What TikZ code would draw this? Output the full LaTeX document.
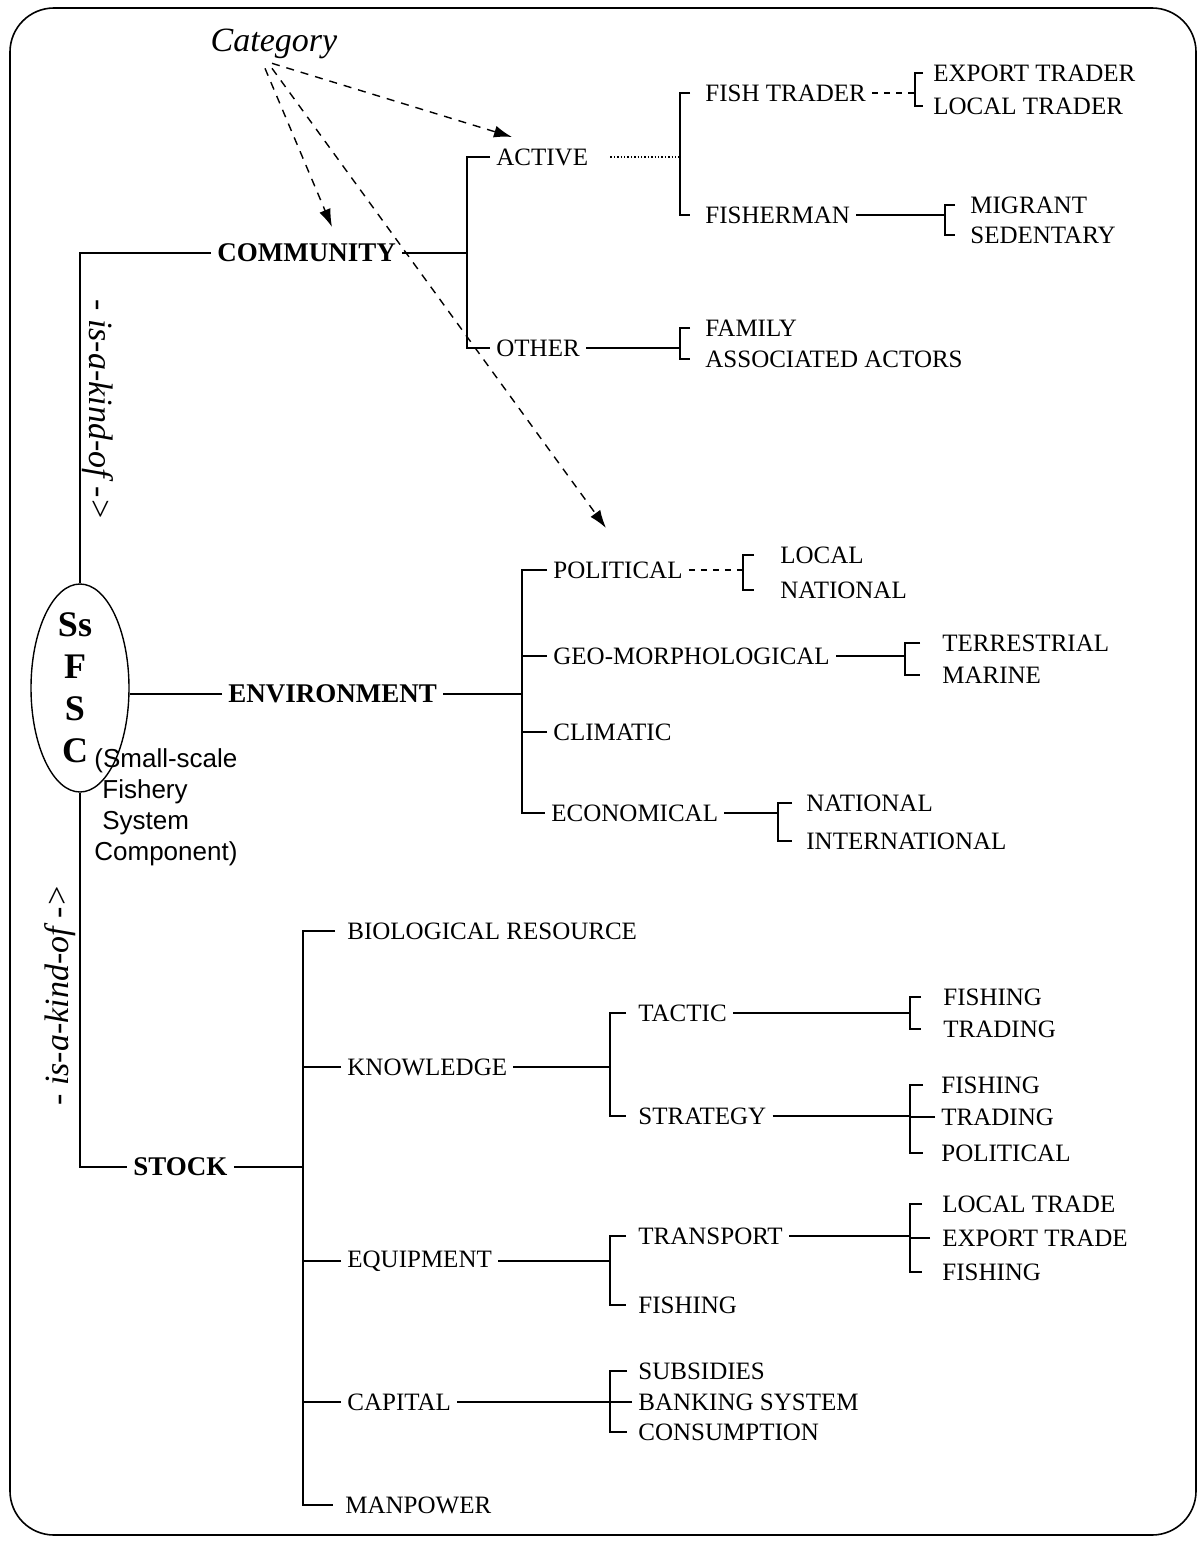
\documentclass[tikz,border=0pt]{standalone}
\usepackage{fontspec}
\setmainfont{Liberation Serif}
\newfontfamily\sansf{Liberation Sans}
\usetikzlibrary{shapes.geometric,arrows.meta,calc}
\tikzset{
  lab/.style={anchor=west, font=\fontsize{12.5}{14}\selectfont, inner xsep=3pt, inner ysep=1pt},
  mainlab/.style={lab, font=\fontsize{13.5}{15}\selectfont\bfseries},
  conn/.style={line width=0.7pt},
  catarrow/.style={line width=0.7pt, dash pattern=on 4pt off 3.5pt, -{Latex[length=9pt,width=6pt]}},
  kind/.style={font=\fontsize{17}{20}\selectfont\itshape, inner sep=0},
  gap/.style={shorten <=#1, shorten >=#1},
}
\begin{document}
\begin{tikzpicture}[x=0.5pt,y=-0.5pt]
\useasboundingbox (0,0) rectangle (1201,1541);
\draw[line width=0.8pt, rounded corners=22pt] (10,8) rectangle (1196,1535);

% category
\node[kind] (cat) at (274,44) {Category};
\coordinate (tipA) at (512,137);
\coordinate (tipB) at (332,227);
\coordinate (tipC) at (606,528);
\draw[catarrow] ($(cat.south)+(-2,4)$) -- (tipA);
\draw[catarrow] ($(cat.south)+(-9,9)$) -- (tipB);
\draw[catarrow] ($(cat.south)+(-2,9)$) -- (tipC);

% central ellipse
\node[draw, ellipse, conn, minimum width=49pt, minimum height=104pt, inner sep=0] (ssfsc) at (80,688) {};
\node[font=\fontsize{18}{21}\selectfont\bfseries, align=center, inner sep=0] (ssfsclet) at (75,688) {Ss\\F\\S\\C};
\node[anchor=north west, font=\sansf\fontsize{13}{15.5}\selectfont, align=left, inner sep=0] (sub) at (94,748)
  {(Small-scale\\\hspace*{4pt}Fishery\\\hspace*{4pt}System\\Component)};

\node[kind, rotate=-90] (kindtop) at (98,410) {- is-a-kind-of ->};
\node[kind, rotate=90] (kindbot) at (60,995) {- is-a-kind-of ->};

% community
\node[mainlab] (comm) at (211,253) {COMMUNITY};
\node[lab] (active) at (490,157) {ACTIVE};
\node[lab] (other) at (490,348) {OTHER};
\node[lab] (fishtrader) at (699,93) {FISH TRADER};
\node[lab] (fisherman) at (699,215) {FISHERMAN};
\node[lab] (export) at (927,73) {EXPORT TRADER};
\node[lab] (localtr) at (927,106) {LOCAL TRADER};
\node[lab] (migrant) at (964,205) {MIGRANT};
\node[lab] (sedentary) at (964,235) {SEDENTARY};
\node[lab] (family) at (699,328) {FAMILY};
\node[lab] (assoc) at (699,359) {ASSOCIATED ACTORS};

% environment
\node[mainlab] (env) at (222,694) {ENVIRONMENT};
\node[lab] (political) at (547,570) {POLITICAL};
\node[lab] (geo) at (547,656) {GEO-MORPHOLOGICAL};
\node[lab] (climatic) at (547,732) {CLIMATIC};
\node[lab] (economical) at (545,813) {ECONOMICAL};
\node[lab] (local) at (774,555) {LOCAL};
\node[lab] (national1) at (774,590) {NATIONAL};
\node[lab] (terrestrial) at (936,643) {TERRESTRIAL};
\node[lab] (marine) at (936,675) {MARINE};
\node[lab] (national2) at (800,803) {NATIONAL};
\node[lab] (international) at (800,841) {INTERNATIONAL};

% stock
\node[mainlab] (stock) at (127,1167) {STOCK};
\node[lab] (bio) at (341,931) {BIOLOGICAL RESOURCE};
\node[lab] (know) at (341,1067) {KNOWLEDGE};
\node[lab] (equip) at (341,1261) {EQUIPMENT};
\node[lab] (capital) at (341,1402) {CAPITAL};
\node[lab] (manpower) at (339,1505) {MANPOWER};
\node[lab] (tactic) at (632,1013) {TACTIC};
\node[lab] (strategy) at (632,1116) {STRATEGY};
\node[lab] (fishing1) at (937,997) {FISHING};
\node[lab] (trading1) at (937,1029) {TRADING};
\node[lab] (fishing2) at (935,1085) {FISHING};
\node[lab] (trading2) at (935,1117) {TRADING};
\node[lab] (political2) at (935,1153) {POLITICAL};
\node[lab] (transport) at (632,1236) {TRANSPORT};
\node[lab] (fishingE) at (632,1305) {FISHING};
\node[lab] (localtrade) at (936,1204) {LOCAL TRADE};
\node[lab] (exporttrade) at (936,1238) {EXPORT TRADE};
\node[lab] (fishing3) at (936,1272) {FISHING};
\node[lab] (subsidies) at (632,1371) {SUBSIDIES};
\node[lab] (banking) at (632,1402) {BANKING SYSTEM};
\node[lab] (consumption) at (632,1432) {CONSUMPTION};

% main connectors
\draw[conn] (comm.west) -| (ssfsc.north);
\draw[conn] (ssfsc.south) |- (stock.west);
\draw[conn] (env.west) -- (env.west -| ssfsc.east);

% community brackets
\coordinate (bA) at (467,253);
\draw[conn] (comm.east) -- (bA);
\draw[conn] (active.west) -| (bA) |- (other.west);
\coordinate (bB) at (680,157);
\draw[conn, densely dotted, shorten <=8pt] (active.east) -- (bB);
\draw[conn, gap=4.5pt] (fishtrader.west) -| (bB) |- (fisherman.west);
\coordinate (bC) at (915,93);
\draw[conn, dashed] (fishtrader.east) -- (bC);
\draw[conn, gap=2pt] (export.west) -| (bC) |- (localtr.west);
\coordinate (bD) at (945,215);
\draw[conn] (fisherman.east) -- (bD);
\draw[conn, gap=4.5pt] (migrant.west) -| (bD) |- (sedentary.west);
\coordinate (bE) at (680,348);
\draw[conn] (other.east) -- (bE);
\draw[conn, gap=4.5pt] (family.west) -| (bE) |- (assoc.west);

% environment brackets
\coordinate (bF) at (522,694);
\draw[conn] (env.east) -- (bF);
\draw[conn] (political.west) -| (bF) |- (economical.west);
\draw[conn] (geo.west) -- (geo.west -| bF);
\draw[conn] (climatic.west) -- (climatic.west -| bF);
\coordinate (bG) at (743,570);
\draw[conn, dashed] (political.east) -- (bG);
\draw[conn, gap=10pt] (local.west) -| (bG) |- (national1.west);
\coordinate (bH) at (905,656);
\draw[conn] (geo.east) -- (bH);
\draw[conn, gap=8pt] (terrestrial.west) -| (bH) |- (marine.west);
\coordinate (bI) at (778,813);
\draw[conn] (economical.east) -- (bI);
\draw[conn, gap=4pt] (national2.west) -| (bI) |- (international.west);

% stock brackets
\coordinate (bJ) at (303,1167);
\draw[conn] (stock.east) -- (bJ);
\draw[conn, gap=3pt] (bio.west) -| (bJ) |- (manpower.west);
\draw[conn] (know.west) -- (know.west -| bJ);
\draw[conn] (equip.west) -- (equip.west -| bJ);
\draw[conn] (capital.west) -- (capital.west -| bJ);
\coordinate (bK) at (610,1067);
\draw[conn] (know.east) -- (bK);
\draw[conn, gap=3pt] (tactic.west) -| (bK) |- (strategy.west);
\coordinate (bL) at (910,1013);
\draw[conn] (tactic.east) -- (bL);
\draw[conn, gap=8pt] (fishing1.west) -| (bL) |- (trading1.west);
\coordinate (bM) at (910,1117);
\draw[conn] (strategy.east) -- (strategy.east -| bM);
\draw[conn, gap=6pt] (fishing2.west) -| (bM) |- (political2.west);
\draw[conn] (trading2.west) -- (bM);
\coordinate (bN) at (610,1261);
\draw[conn] (equip.east) -- (bN);
\draw[conn, gap=3pt] (transport.west) -| (bN) |- (fishingE.west);
\coordinate (bO) at (910,1238);
\draw[conn] (transport.east) -- (transport.east -| bO);
\draw[conn, gap=7pt] (localtrade.west) -| (bO) |- (fishing3.west);
\draw[conn, shorten <=3pt] (exporttrade.west) -- (bO);
\coordinate (bP) at (610,1402);
\draw[conn] (capital.east) -- (bP);
\draw[conn, gap=2.5pt] (subsidies.west) -| (bP) |- (consumption.west);
\draw[conn] (banking.west) -- (bP);
\end{tikzpicture}
\end{document}
